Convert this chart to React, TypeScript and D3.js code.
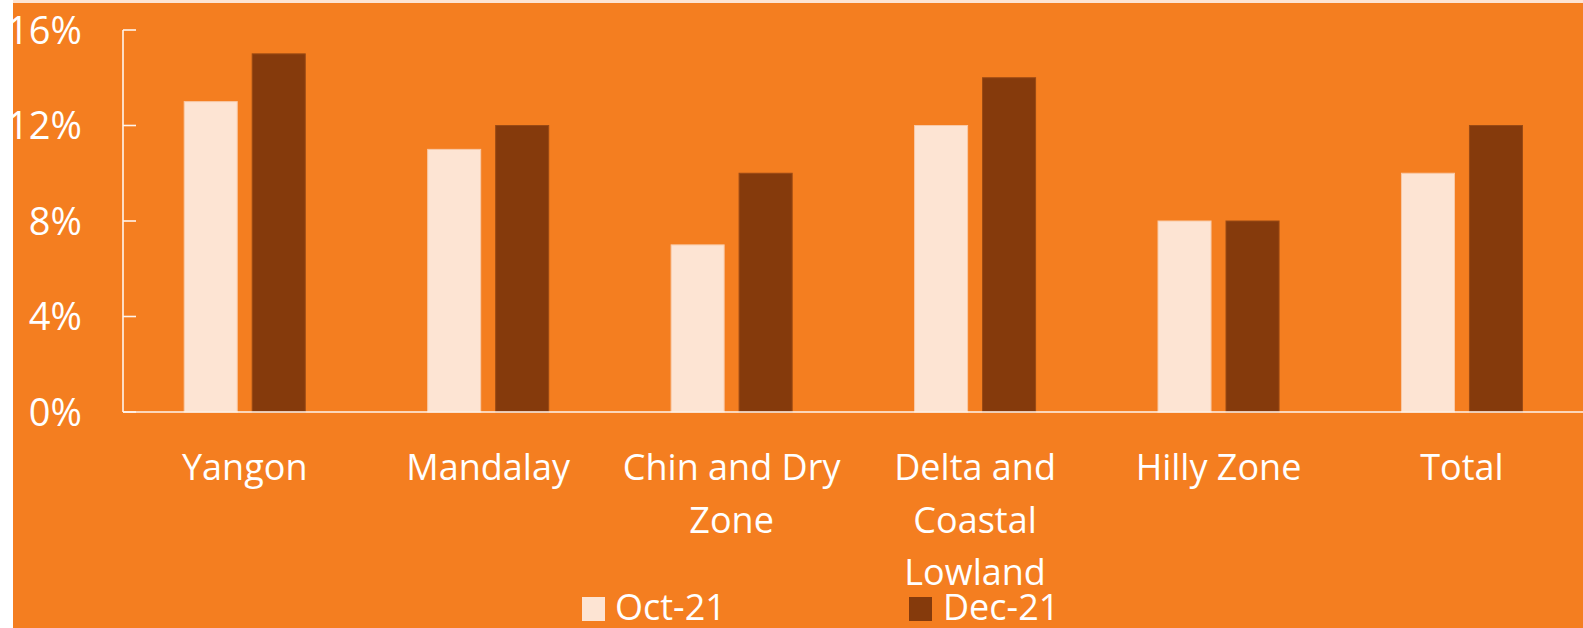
import React from "react";
import * as d3 from "d3";

const categories: string[][] = [
  ["Yangon"],
  ["Mandalay"],
  ["Chin and Dry", "Zone"],
  ["Delta and", "Coastal", "Lowland"],
  ["Hilly Zone"],
  ["Total"],
];
const seriesNames = ["Oct-21", "Dec-21"];
const oct21 = [13, 11, 7, 12, 8, 10];
const dec21 = [15, 12, 10, 14, 8, 12];
const yTicks = [0, 4, 8, 12, 16];

const W = 1583;
const H = 628;
const ORANGE = "#F47E20";
const LIGHT = "#FDE4D3";
const DARK = "#853A0C";
const FONT = "'Open Sans', sans-serif";

export default function App() {
  const plotLeft = 123;
  const plotRight = 1583.7;
  const plotTop = 30;
  const plotBottom = 412;

  const keys = categories.map((c) => c.join(" "));
  const x0 = d3.scaleBand<string>().domain(keys).range([plotLeft, plotRight]).padding(0);
  const x1 = d3
    .scaleBand<string>()
    .domain(seriesNames)
    .range([0, x0.bandwidth()])
    .paddingInner(0.22)
    .paddingOuter(0.9);
  const y = d3.scaleLinear().domain([0, 16]).range([plotBottom, plotTop]);

  const series = [
    { name: seriesNames[0], values: oct21, fill: LIGHT, stroke: "#F9C9A6" },
    { name: seriesNames[1], values: dec21, fill: DARK, stroke: "#9A4A14" },
  ];

  return (
    <div style={{ position: "fixed", left: 0, top: 0 }}>
      <svg width={W} height={H} style={{ display: "block" }}>
        <rect x={0} y={0} width={W} height={H} fill="#FFFFFF" />
        <rect x={13} y={0} width={W - 13} height={3} fill={LIGHT} />
        <rect x={13} y={3} width={W - 13} height={H - 3} fill={ORANGE} />

        {/* bars */}
        {series.map((s) =>
          keys.map((k, i) => (
            <rect
              key={s.name + k}
              x={(x0(k) as number) + (x1(s.name) as number)}
              y={y(s.values[i])}
              width={x1.bandwidth()}
              height={plotBottom - y(s.values[i])}
              fill={s.fill}
              stroke={s.stroke}
              strokeWidth={1}
            />
          ))
        )}

        {/* axes */}
        <line x1={plotLeft} x2={plotLeft} y1={plotTop} y2={plotBottom} stroke="#FFF4EC" strokeWidth={1.6} />
        <line x1={plotLeft} x2={plotRight} y1={plotBottom} y2={plotBottom} stroke="#FFF4EC" strokeWidth={1.6} />
        {yTicks.map((t) => (
          <g key={t}>
            <line x1={plotLeft} x2={plotLeft + 13} y1={y(t)} y2={y(t)} stroke="#FFF4EC" strokeWidth={1.6} />
            <text
              x={82}
              y={y(t)}
              dy="0.36em"
              textAnchor="end"
              fill="#FFFFFF"
              fontFamily={FONT}
              fontSize={38}
            >
              {t}%
            </text>
          </g>
        ))}

        {/* category labels */}
        {categories.map((lines, i) => (
          <text
            key={keys[i]}
            x={(x0(keys[i]) as number) + x0.bandwidth() / 2}
            y={480}
            textAnchor="middle"
            fill="#FFFFFF"
            fontFamily={FONT}
            fontSize={36}
          >
            {lines.map((ln, j) => (
              <tspan key={j} x={(x0(keys[i]) as number) + x0.bandwidth() / 2} y={480 + j * 52.5}>
                {ln}
              </tspan>
            ))}
          </text>
        ))}

        {/* legend */}
        {[
          { label: seriesNames[0], fill: LIGHT, sx: 582, tx: 615 },
          { label: seriesNames[1], fill: DARK, sx: 909, tx: 943 },
        ].map((l) => (
          <g key={l.label}>
            <rect x={l.sx} y={597} width={23} height={24} fill={l.fill} />
            <text x={l.tx} y={620} fill="#FFFFFF" fontFamily={FONT} fontSize={36}>
              {l.label}
            </text>
          </g>
        ))}
      </svg>
    </div>
  );
}
